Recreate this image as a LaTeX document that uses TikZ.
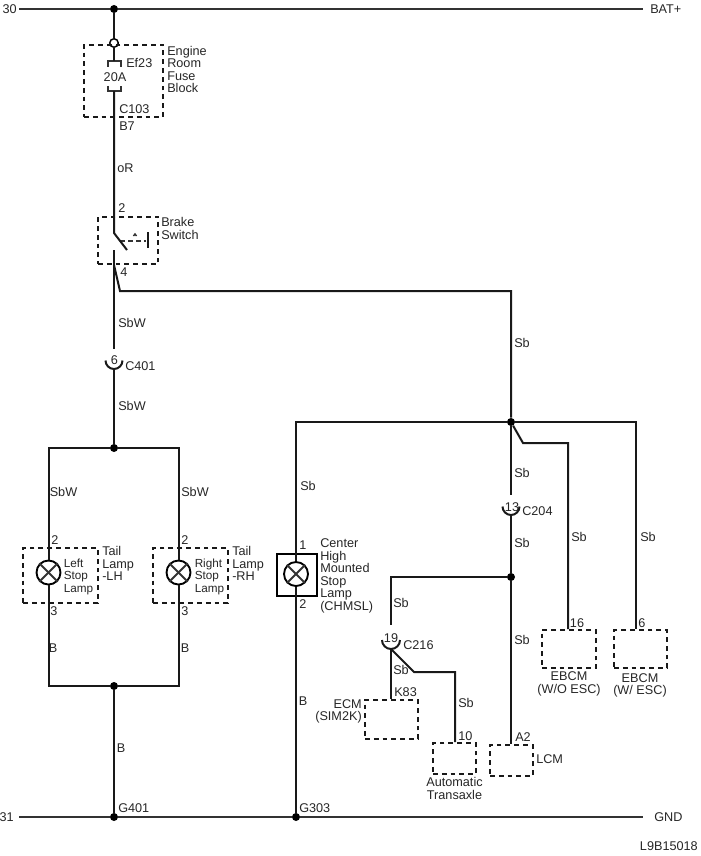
\documentclass[tikz,border=0pt]{standalone}
\usepackage{fontspec}
\setmainfont{Liberation Sans}
\usetikzlibrary{positioning}
\tikzset{
    wiren/.style = {-,line width=1.5pt,black!90},
    wireb/.style = {-,line width=1.4pt,black!80},
    boxd/.style = {rectangle,draw=black!90,line width=1.3pt,dash pattern=on 3.6pt off 3pt,inner sep=0pt},
    dotn/.style = {circle,fill=black,inner sep=0pt,minimum size=6pt},
    openn/.style = {circle,draw=black,fill=white,line width=1.1pt,inner sep=0pt,minimum size=6.4pt},
    lampn/.style = {circle,draw=black,line width=1.4pt,inner sep=0pt,minimum size=18pt},
    lbl/.style = {font=\fontsize{9.5}{9.35}\selectfont,text=black!85,inner sep=0pt,align=left},
    lbls/.style = {font=\fontsize{8.8}{9.35}\selectfont,text=black!85,inner sep=0pt,align=left},
    lblc/.style = {lbl,align=center}
}
\begin{document}
\begin{tikzpicture}[x=0.75pt,y=-0.75pt]
\path[use as bounding box] (0,0) rectangle (700,856);
%
% junctions and bends
\node[dotn] at (114,9) (jtop) {};
\node[openn] at (114,43) (fuseo) {};
\node[dotn] at (114,448) (jtail) {};
\node[dotn] at (114,686) (jgnd) {};
\node[dotn] at (114,817) (g401) {};
\node[dotn] at (296,817) (g303) {};
\node[dotn] at (511,422) (jsb) {};
\node[dotn] at (511,577) (jlcm) {};
\coordinate (b30l) at (19,9);
\coordinate (b30r) at (643,9);
\coordinate (b31l) at (19,817);
\coordinate (b31r) at (643,817);
\coordinate (tailTL) at (48.5,448);
\coordinate (tailTR) at (178.5,448);
\coordinate (tailBL) at (48.5,686);
\coordinate (tailBR) at (178.5,686);
\coordinate (sbTL) at (296,422);
\coordinate (sbTR) at (636,422);
\coordinate (sbA) at (523,443);
\coordinate (sbB) at (568,443);
\coordinate (sbC) at (511,495);
\coordinate (sbD) at (391,577);
\coordinate (sbE) at (391,625);
\coordinate (sbF) at (414,672);
\coordinate (sbG) at (455,672);
%
% boxes
\node[boxd,minimum width=59.25pt,minimum height=54pt] at (123.5,81) (fuseb) {};
\node[boxd,minimum width=45pt,minimum height=35.25pt] at (128,240.5) (brake) {};
\node[boxd,minimum width=56.25pt,minimum height=41.25pt] at (60.5,575.5) (tailL) {};
\node[boxd,minimum width=56.25pt,minimum height=41.25pt] at (190.5,575.5) (tailR) {};
\node[boxd,minimum width=39.75pt,minimum height=29.25pt] at (391.5,719.5) (ecm) {};
\node[boxd,minimum width=32.25pt,minimum height=23.25pt] at (454.5,758.5) (atm) {};
\node[boxd,minimum width=32.25pt,minimum height=23.25pt] at (511.5,760.5) (lcm) {};
\node[boxd,minimum width=40.5pt,minimum height=28.5pt] at (569,649) (ebcmA) {};
\node[boxd,minimum width=39.75pt,minimum height=28.5pt] at (640.5,649) (ebcmB) {};
\node[rectangle,draw=black,line width=1.3pt,inner sep=0pt,minimum width=30pt,minimum height=31.5pt] at (297,575) (chmsl) {};
%
% lamps
\node[lampn] at (48.5,572.5) (lampL) {};
\node[lampn] at (178.5,572.5) (lampR) {};
\node[lampn] at (296,574) (lampC) {};
\foreach \l in {lampL,lampR,lampC}{
    \draw[wireb] (\l.45) -- (\l.225);
    \draw[wireb] (\l.135) -- (\l.315);
}
%
% fuse
\coordinate (fuseT) at (114,61);
\coordinate (fuseB) at (114,91);
\draw[wireb,line width=1.2pt] (108,67) -- (108,61) -- (121,61) -- (121,67);
\draw[wireb,line width=1.2pt] (108,86) -- (108,91) -- (121,91) -- (121,86);
%
% switch
\coordinate (swA) at (114,233);
\coordinate (swB) at (127,250);
\coordinate (swC) at (114,250);
\coordinate (swD) at (114,349);
\coordinate (swE) at (120,291);
\coordinate (swF) at (114,265);
\coordinate (swG) at (511,291);
\draw[wireb,dash pattern=on 3.4pt off 2.6pt,line width=1.2pt] (120,241) -- (146,241);
\draw[wireb,line width=1.1pt] (133.5,236) -- (135,234) -- (136.5,236);
\draw[wiren] (148,232) -- (148,248);
%
% connectors
\coordinate (c401) at (114,369);
\coordinate (c204) at (511,515);
\coordinate (c216) at (391,649);
\draw[wiren] (c401) ++(-8.5,-8.5) arc[start angle=180,end angle=0,radius=8.5];
\draw[wiren] (c204) ++(-8.5,-8.5) arc[start angle=180,end angle=0,radius=8.5];
\draw[wiren] (c216) ++(-9,-9) arc[start angle=180,end angle=0,radius=9];
%
% wires
\draw[wireb] (b30l) -- (jtop) -- (b30r);
\draw[wireb] (b31l) -- (g401) -- (g303) -- (b31r);
\draw[wiren] (jtop) -- (fuseo);
\draw[wiren] (fuseo) -- (fuseT);
\draw[wiren] (fuseB) -- (swA) -- (swB);
\draw[wiren] (swC) -- (swD);
\draw[wiren] (swF) -- (swE) -- (swG) -- (jsb);
\draw[wiren] (c401) -- (jtail);
\draw[wiren] (lampL.north) -- (tailTL) -- (jtail) -- (tailTR) -- (lampR.north);
\draw[wiren] (lampL.south) -- (tailBL) -- (jgnd) -- (tailBR) -- (lampR.south);
\draw[wiren] (jgnd) -- (g401);
\draw[wiren] (g303) -- (lampC.south);
\draw[wiren] (lampC.north) -- (sbTL) -- (jsb) -- (sbTR) -- (sbTR |- ebcmB.north);
\draw[wiren] (jsb) -- (sbA) -- (sbB) -- (sbB |- ebcmA.north);
\draw[wiren] (jsb) -- (sbC);
\draw[wiren] (c204) -- (jlcm) -- (c204 |- lcm.north);
\draw[wiren] (jlcm) -- (sbD) -- (sbE);
\draw[wiren] (c216) -- (c216 |- ecm.north);
\draw[wiren] (c216) -- (sbF) -- (sbG) -- (sbG |- atm.north);
%
% labels
\node[lbl,anchor=east] at (17,9) (t30) {30};
\node[lbl,anchor=west] at (650,9) (tbat) {BAT+};
\node[lbl,anchor=east] at (14,817) (t31) {31};
\node[lbl,anchor=west] at (654,817) (tgnd) {GND};
\node[lbl,anchor=east] at (698,846) (tcode) {L9B15018};
\node[lbl,anchor=west] at (167,69.5) (tfuse) {Engine\\Room\\Fuse\\Block};
\node[lbl,anchor=west] at (126,63) (tef) {Ef23};
\node[lbl] at (115,77) (t20a) {20A};
\node[lbl,anchor=west] at (119,109) (tc103) {C103};
\node[lbl,anchor=west] at (119,126) (tb7) {B7};
\node[lbl,anchor=west] at (117,168) (tor) {oR};
\node[lbl,anchor=west] at (118,208) (tsw2) {2};
\node[lbl,anchor=west] at (161,228.5) (tbrake) {Brake\\Switch};
\node[lbl,anchor=west] at (120,272) (tsw4) {4};
\node[lbl] at (132,323) (tsbw1) {SbW};
\node[lbl] at (114.5,360) (t6) {6};
\node[lbl,anchor=west] at (125,366) (tc401) {C401};
\node[lbl] at (132,406) (tsbw2) {SbW};
\node[lbl,anchor=west] at (49.5,492) (tsbwL) {SbW};
\node[lbl,anchor=west] at (181,492) (tsbwR) {SbW};
\node[lbl] at (55,540) (tL2) {2};
\node[lbl] at (185,540) (tR2) {2};
\node[lbl] at (54,611) (tL3) {3};
\node[lbl] at (185,611) (tR3) {3};
\node[lbl] at (53,648) (tLb) {B};
\node[lbl] at (185,648) (tRb) {B};
\node[lbls,anchor=west] at (63.5,576.5) (tlampL) {Left\\Stop\\Lamp};
\node[lbls,anchor=west] at (194.5,576.5) (tlampR) {Right\\Stop\\Lamp};
\node[lbl,anchor=west] at (102,563.5) (ttailL) {Tail\\Lamp\\-LH};
\node[lbl,anchor=west] at (232,563.5) (ttailR) {Tail\\Lamp\\-RH};
\node[lbl] at (121,748) (tb) {B};
\node[lbl,anchor=west] at (118,808) (tg401) {G401};
\node[lbl,anchor=west] at (299,808) (tg303) {G303};
\node[lbl] at (308,486) (tsbc) {Sb};
\node[lbl] at (303,545) (tc1) {1};
\node[lbl] at (303,604) (tc2) {2};
\node[lbl] at (303,701) (tcb) {B};
\node[lbl,anchor=west] at (320,576) (tchmsl) {Center\\High\\Mounted\\Stop\\Lamp\\(CHMSL)};
\node[lbl] at (522,343) (tsb1) {Sb};
\node[lbl] at (522,473) (tsb2) {Sb};
\node[lbl] at (512,507) (t13) {13};
\node[lbl,anchor=west] at (522,511) (tc204) {C204};
\node[lbl] at (522,543) (tsb3) {Sb};
\node[lbl] at (522,640) (tsb4) {Sb};
\node[lbl] at (579,537) (tsb5) {Sb};
\node[lbl] at (648,537) (tsb6) {Sb};
\node[lbl] at (401,603) (tsb7) {Sb};
\node[lbl] at (391,638) (t19) {19};
\node[lbl,anchor=west] at (403,645) (tc216) {C216};
\node[lbl] at (401,670) (tsb8) {Sb};
\node[lbl,anchor=west] at (394,692) (tk83) {K83};
\node[lbl,align=right,anchor=east] at (362,711.5) (tecm) {ECM\\(SIM2K)};
\node[lbl] at (466,703) (tsb9) {Sb};
\node[lbl,anchor=west] at (458,736) (t10) {10};
\node[lblc] at (454.5,788.5) (tatm) {Automatic\\Transaxle};
\node[lbl,anchor=west] at (515,737) (ta2) {A2};
\node[lbl,anchor=west] at (536,759) (tlcm) {LCM};
\node[lbl] at (577,623) (t16) {16};
\node[lbl] at (642,623) (t6b) {6};
\node[lblc] at (569,684) (tebcmA) {EBCM\\(W/O ESC)};
\node[lblc] at (640,685.5) (tebcmB) {EBCM\\(W/ ESC)};
\end{tikzpicture}
\end{document}
